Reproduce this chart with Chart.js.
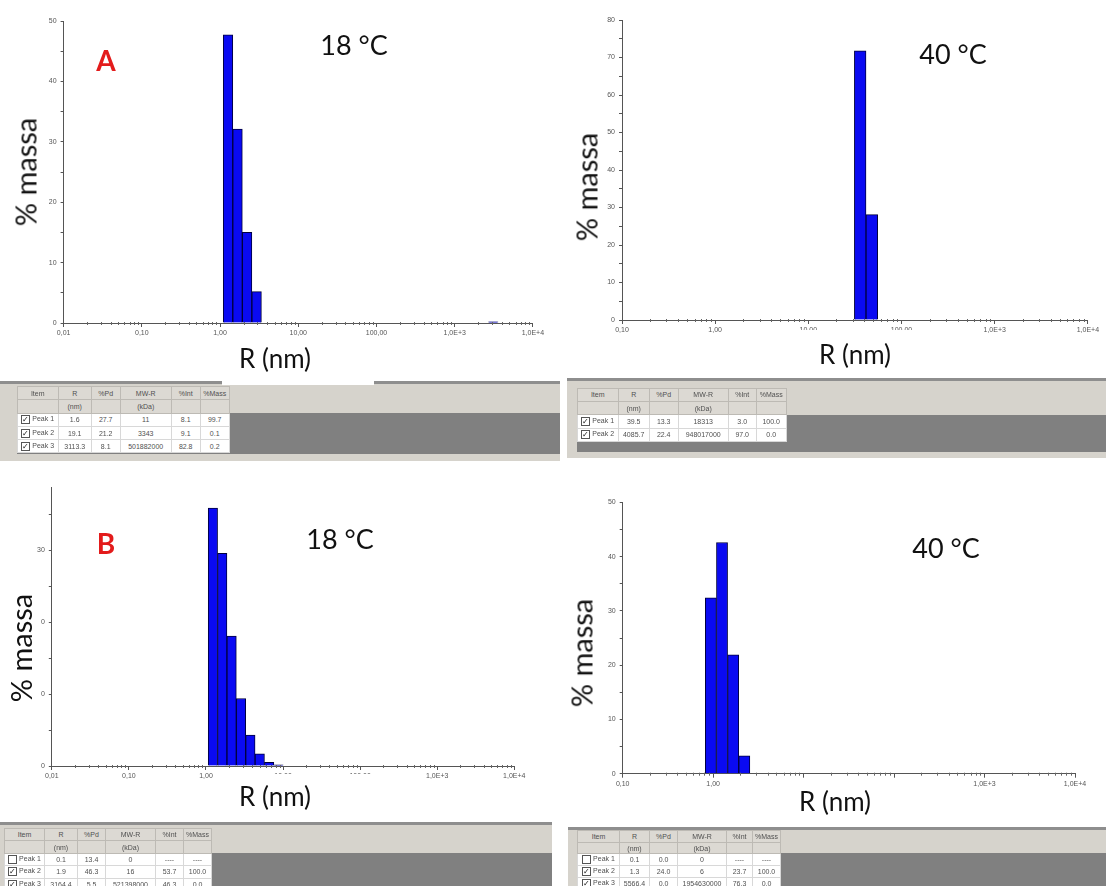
<!DOCTYPE html>
<html>
<head>
<meta charset="utf-8">
<title>% massa vs R (nm)</title>
<script src="https://cdn.jsdelivr.net/npm/chart.js"></script>
<style>
  body { margin: 0; width: 1106px; height: 886px; position: relative; overflow: hidden; background: #fff; font-family: Lato, sans-serif; }
  .box { position: absolute; }
  .lbl { position: absolute; transform: translate(-50%, -50%); line-height: 1; white-space: nowrap; color: #111; z-index: 3; }
  .ytitle { transform: translate(-50%, -50%) rotate(-90deg); font-size: 29px; }
  .xtitle { font-size: 26px; }
  .temp { font-size: 27px; }
  .tag { font-size: 28px; font-weight: bold; color: #e31b1b; }
  .cover { position: absolute; background: #fff; z-index: 2; }
  .panel { position: absolute; background: #d6d3cc; border-top: 3px solid #8e8e8e; box-sizing: border-box; z-index: 1; }
  .dark { position: absolute; background: #808080; z-index: 1; }
  table.peaks { position: absolute; border-collapse: collapse; table-layout: fixed; font: 7px 'Liberation Sans', Arial, sans-serif; color: #505050; z-index: 2; }
  table.peaks td { padding: 0; text-align: center; white-space: nowrap; overflow: hidden; }
  table.peaks tr.h td { background: #dcd9d3; border: 1px solid #bdbab4; }
  table.peaks tr.d td { background: #fff; border: 1px solid #d8d8d8; }
  .chk { display: inline-block; width: 7px; height: 7px; border: 1px solid #555; background: #fff; vertical-align: middle; margin-right: 2px; font-size: 8px; line-height: 7px; color: #111; text-align: center; }
</style>
</head>
<body>

<div class="box" id="wA18"><canvas id="cA18"></canvas></div>
<div class="box" id="wA40"><canvas id="cA40"></canvas></div>
<div class="box" id="wB18"><canvas id="cB18"></canvas></div>
<div class="box" id="wB40"><canvas id="cB40"></canvas></div>

<div class="lbl tag" style="left:106px; top:60px;">A</div>
<div class="lbl temp" style="left:354px; top:44px;">18 °C</div>
<div class="lbl ytitle" style="left:25px; top:172px;">% massa</div>
<div class="lbl xtitle" style="left:275px; top:358px;">R (nm)</div>

<div class="lbl temp" style="left:953px; top:53px;">40 °C</div>
<div class="lbl ytitle" style="left:586px; top:187px;">% massa</div>
<div class="cover" style="left:792px; top:330px; width:124px; height:42px;"></div>
<div class="lbl xtitle" style="left:855px; top:354px;">R (nm)</div>

<div class="lbl tag" style="left:106px; top:543px;">B</div>
<div class="lbl temp" style="left:340px; top:538px;">18 °C</div>
<div class="cover" style="left:0px; top:585px; width:40.5px; height:127px;"></div>
<div class="lbl ytitle" style="left:20px; top:648px;">% massa</div>
<div class="cover" style="left:222px; top:774px; width:152px; height:44px;"></div>
<div class="lbl xtitle" style="left:275px; top:796px;">R (nm)</div>

<div class="lbl temp" style="left:946px; top:547px;">40 °C</div>
<div class="lbl ytitle" style="left:581px; top:653px;">% massa</div>
<div class="cover" style="left:780px; top:778px; width:135px; height:44px;"></div>
<div class="lbl xtitle" style="left:835px; top:801px;">R (nm)</div>

<div id="tables"></div>

<script>
// ---- data ----
// bin centres (nm) and % mass of each bin
const rA18 = [1.265, 1.675, 2.218, 2.938, 3113];
const massA18 = [47.7, 32.1, 15.0, 5.2, 0.2];

const rA40 = [36.0, 48.0];
const massA40 = [71.8, 28.1];

const rB18 = [1.23, 1.627, 2.153, 2.849, 3.77, 4.99, 6.60, 8.73];
const massB18 = [35.9, 29.6, 18.1, 9.4, 4.3, 1.7, 0.5, 0.15];

const rB40 = [0.943, 1.253, 1.665, 2.21];
const massB40 = [32.4, 42.6, 21.9, 3.3];

// decade tick labels
const xLabels001 = ['0,01', '0,10', '1,00', '10,00', '100,00', '1,0E+3', '1,0E+4'];
const xLabels01 = ['0,10', '1,00', '10,00', '100,00', '1,0E+3', '1,0E+4'];

// peak tables
const tableHead = ['Item', 'R', '%Pd', 'MW-R', '%Int', '%Mass'];
const tableUnits = ['', '(nm)', '', '(kDa)', '', ''];
const peaksA18 = [
  [true, 'Peak 1', '1.6', '27.7', '11', '8.1', '99.7'],
  [true, 'Peak 2', '19.1', '21.2', '3343', '9.1', '0.1'],
  [true, 'Peak 3', '3113.3', '8.1', '501882000', '82.8', '0.2']
];
const peaksA40 = [
  [true, 'Peak 1', '39.5', '13.3', '18313', '3.0', '100.0'],
  [true, 'Peak 2', '4085.7', '22.4', '948017000', '97.0', '0.0']
];
const peaksB18 = [
  [false, 'Peak 1', '0.1', '13.4', '0', '----', '----'],
  [true, 'Peak 2', '1.9', '46.3', '16', '53.7', '100.0'],
  [true, 'Peak 3', '3164.4', '5.5', '521398000', '46.3', '0.0']
];
const peaksB40 = [
  [false, 'Peak 1', '0.1', '0.0', '0', '----', '----'],
  [true, 'Peak 2', '1.3', '24.0', '6', '23.7', '100.0'],
  [true, 'Peak 3', '5566.4', '0.0', '1954630000', '76.3', '0.0']
];

// small tick marks between the decades of the log axis
const minorTicks = {
  id: 'minorTicks',
  afterDraw(chart) {
    const x = chart.scales.x, ctx = chart.ctx, bottom = chart.chartArea.bottom;
    const e0 = Math.round(Math.log10(x.min)), e1 = Math.round(Math.log10(x.max));
    ctx.save();
    ctx.strokeStyle = '#666';
    ctx.lineWidth = 1;
    ctx.beginPath();
    for (let e = e0; e < e1; e++) {
      for (let k = 2; k <= 9; k++) {
        const px = Math.round(x.getPixelForValue(k * Math.pow(10, e))) + 0.5;
        ctx.moveTo(px, bottom - 1);
        ctx.lineTo(px, bottom + 2);
      }
    }
    ctx.stroke();
    ctx.restore();
  }
};

const tickFont = { size: 7, family: "'Liberation Sans', Arial, sans-serif" };

function drawPanel(id, xs, ys, xLabels, xmin, xmax, ymax, g) {
  const wrap = document.getElementById('w' + id);
  wrap.style.left = g.left + 'px';
  wrap.style.top = g.top + 'px';
  wrap.style.width = g.w + 'px';
  wrap.style.height = g.h + 'px';
  const e0 = Math.round(Math.log10(xmin)), e1 = Math.round(Math.log10(xmax));

  new Chart(document.getElementById('c' + id), {
    type: 'bar',
    data: {
      datasets: [{
        data: xs.map((v, i) => ({ x: v, y: ys[i] })),
        backgroundColor: '#0a0af2',
        borderColor: '#00003c',
        borderWidth: 1,
        barPercentage: 1,
        categoryPercentage: 1
      }]
    },
    options: {
      responsive: true,
      maintainAspectRatio: false,
      animation: false,
      layout: { padding: { left: 0, top: g.padTop, right: g.padRight, bottom: 0 } },
      plugins: { legend: { display: false }, tooltip: { enabled: false } },
      scales: {
        x: {
          type: 'logarithmic',
          min: xmin,
          max: xmax,
          offset: false,
          afterBuildTicks: s => {
            const t = [];
            for (let e = e0; e <= e1; e++) t.push({ value: Math.pow(10, e) });
            s.ticks = t;
          },
          afterFit: s => { s.height = g.xh; },
          grid: { drawOnChartArea: false, offset: false, tickLength: 4, color: '#555' },
          border: { color: '#555' },
          ticks: {
            autoSkip: false, maxRotation: 0, minRotation: 0, padding: 2,
            font: tickFont, color: '#555',
            callback: (v, i) => xLabels[i] || ''
          }
        },
        y: {
          min: 0,
          max: ymax,
          afterBuildTicks: s => { s.ticks = s.ticks.filter(t => t.value % 5 === 0); },
          afterFit: s => { s.width = g.yw; },
          grid: { drawOnChartArea: false, tickLength: 3, color: '#555' },
          border: { color: '#555' },
          ticks: {
            stepSize: 5, padding: 4, font: tickFont, color: '#555',
            callback: v => (v % 10 === 0 ? String(v) : '')
          }
        }
      }
    },
    plugins: [minorTicks]
  });
}

drawPanel('A18', rA18, massA18, xLabels001, 0.01, 10000, 50,
  { left: 0, top: 0, w: 556, h: 346, yw: 63.6, padTop: 21, padRight: 23.1, xh: 23 });
drawPanel('A40', rA40, massA40, xLabels01, 0.1, 10000, 80,
  { left: 560, top: 0, w: 546, h: 346, yw: 62, padTop: 20, padRight: 18.1, xh: 26 });
drawPanel('B18', rB18, massB18, xLabels001, 0.01, 10000, 38.8,
  { left: 0, top: 470, w: 556, h: 330, yw: 51.8, padTop: 17.3, padRight: 41.7, xh: 34 });
drawPanel('B40', rB40, massB40, xLabels01, 0.1, 10000, 50,
  { left: 560, top: 470, w: 546, h: 330, yw: 62.7, padTop: 32.3, padRight: 31, xh: 26.3 });

// ---- instrument peak tables ----
function drawTable(rows, t) {
  const host = document.getElementById('tables');
  const panel = document.createElement('div');
  panel.className = 'panel';
  Object.assign(panel.style, { left: t.px + 'px', top: t.py + 'px', width: t.pw + 'px', height: t.ph + 'px' });
  host.appendChild(panel);

  const dark = document.createElement('div');
  dark.className = 'dark';
  Object.assign(dark.style, { left: t.x + 'px', top: t.dy + 'px', width: (t.px + t.pw - t.x) + 'px', height: t.dh + 'px' });
  host.appendChild(dark);

  const tbl = document.createElement('table');
  tbl.className = 'peaks';
  tbl.style.left = t.x + 'px';
  tbl.style.top = t.y + 'px';
  const cg = document.createElement('colgroup');
  t.widths.forEach(w => { const c = document.createElement('col'); c.style.width = w + 'px'; cg.appendChild(c); });
  tbl.appendChild(cg);

  const addRow = (cells, cls, h) => {
    const tr = document.createElement('tr');
    tr.className = cls;
    tr.style.height = h + 'px';
    cells.forEach(c => { const td = document.createElement('td'); td.innerHTML = c; tr.appendChild(td); });
    tbl.appendChild(tr);
  };
  addRow(tableHead, 'h', t.rh);
  addRow(tableUnits, 'h', t.rh);
  rows.forEach(r => {
    const box = '<span class="chk">' + (r[0] ? '&#10003;' : '') + '</span>';
    addRow([box + r[1]].concat(r.slice(2)), 'd', t.rh);
  });
  host.appendChild(tbl);
}

drawTable(peaksA18, { px: 0, py: 381, pw: 560, ph: 80, x: 16.7, y: 386, dy: 412.7, dh: 41.3, rh: 13.3, widths: [41, 33, 29, 51, 29, 29] });
drawTable(peaksA40, { px: 567, py: 378, pw: 539, ph: 80, x: 576.7, y: 387.7, dy: 415, dh: 37, rh: 13.3, widths: [41, 31, 29, 50, 28, 30] });
drawTable(peaksB18, { px: 0, py: 822, pw: 552, ph: 64, x: 4, y: 828, dy: 853, dh: 33, rh: 12.4, widths: [40, 33, 28, 50, 28, 28] });
drawTable(peaksB40, { px: 568, py: 826.7, pw: 538, ph: 60, x: 577, y: 830, dy: 852.7, dh: 34, rh: 11.7, widths: [42, 30, 28, 49, 26, 28] });
</script>
<div class="cover" style="left:222px; top:378px; width:152px; height:7px; z-index:4;"></div>
</body>
</html>
